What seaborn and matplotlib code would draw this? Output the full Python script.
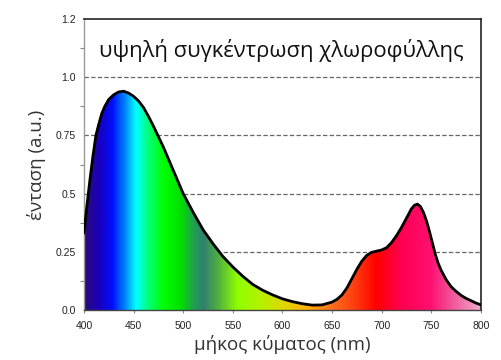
import numpy as np
import pandas as pd
import matplotlib
matplotlib.use("Agg")
import matplotlib.pyplot as plt
from matplotlib.colors import LinearSegmentedColormap
import seaborn as sns

# ---- data ----
wavelength = [400, 403, 406, 409, 412, 415, 418, 421, 425, 430, 435, 440, 445, 450, 455,
              460, 465, 470, 475, 480, 485, 490, 495, 500, 510, 520, 530, 540, 550,
              560, 570, 580, 590, 600, 610, 620, 630, 640, 650, 655, 660, 665, 670,
              675, 680, 685, 690, 695, 700, 705, 710, 715, 720, 725, 730, 733, 736,
              739, 742, 745, 748, 751, 754, 757, 760, 765, 770, 775, 780, 785, 790,
              795, 800]
intensity = [0.33, 0.45, 0.56, 0.66, 0.75, 0.80, 0.845, 0.875, 0.905, 0.925, 0.937, 0.94,
             0.932, 0.918, 0.898, 0.87, 0.832, 0.79, 0.745, 0.70, 0.65, 0.60, 0.55, 0.50,
             0.42, 0.345, 0.285, 0.23, 0.185, 0.145, 0.11, 0.085, 0.065, 0.048, 0.036,
             0.027, 0.021, 0.022, 0.034, 0.046, 0.065, 0.095, 0.135, 0.175, 0.21, 0.235,
             0.248, 0.253, 0.258, 0.268, 0.29, 0.32, 0.355, 0.395, 0.435, 0.45, 0.455,
             0.445, 0.42, 0.385, 0.34, 0.29, 0.24, 0.20, 0.17, 0.13, 0.10, 0.08, 0.063,
             0.05, 0.04, 0.03, 0.022]

x_ticks = [400, 450, 500, 550, 600, 650, 700, 750, 800]
y_ticks = [0.0, 0.25, 0.5, 0.75, 1.0, 1.25]
y_tick_labels = ["0.0", "0.25", "0.5", "0.75", "1.0", "1.2"]
grid_levels = [0.25, 0.5, 0.75, 1.0]

title_text = "υψηλή συγκέντρωση χλωροφύλλης"
x_label = "μήκος κύματος (nm)"
y_label = "ένταση (a.u.)"

# spectral colour stops (nm, colour)
spec_nm = [400, 415, 428, 440, 452, 465, 480, 497, 510, 520, 535, 555, 580,
           600, 625, 650, 672, 695, 720, 750, 775, 800]
spec_col = ["#2a0a78", "#1a00c0", "#0010ff", "#0080ff", "#00ffff", "#00ff70", "#00ff00",
            "#00e000", "#20a050", "#308070", "#50b040", "#90ff00", "#b8f000",
            "#e0d800", "#ffb000", "#ff7020", "#ff4010", "#ff0000", "#ff0050",
            "#ff1070", "#f060a0", "#f0a8c8"]

df = pd.DataFrame({"wavelength": wavelength, "intensity": intensity})

sns.set_theme(style="white")
plt.rcParams["font.family"] = ["Open Sans", "DejaVu Sans"]

fig = plt.figure(figsize=(5.02, 3.6), dpi=100)
ax = fig.add_axes([0.1673, 0.1389, 0.958 - 0.1673, 0.947 - 0.1389])
ax.set_xlim(400, 800)
ax.set_ylim(0, 1.25)

# dashed reference lines
for lv in grid_levels:
    ax.axhline(lv, color="#666666", lw=0.9, ls=(0, (3.5, 1.8)), zorder=1)

# gradient fill clipped to the area under the curve
poly = ax.fill_between(df["wavelength"], df["intensity"], 0, color="none", zorder=2)
lo, hi = spec_nm[0], spec_nm[-1]
cmap = LinearSegmentedColormap.from_list(
    "spec", [((n - lo) / (hi - lo), c) for n, c in zip(spec_nm, spec_col)])
grad = np.linspace(0, 1, 800).reshape(1, -1)
im = ax.imshow(grad, cmap=cmap, aspect="auto", extent=[400, 800, 0, 1.25],
               origin="lower", zorder=2, interpolation="bilinear")
path = poly.get_paths()[0]
im.set_clip_path(path, transform=ax.transData)

sns.lineplot(data=df, x="wavelength", y="intensity", ax=ax, color="black",
             lw=2.0, zorder=3)

ax.set_xticks(x_ticks)
ax.set_xticklabels([str(t) for t in x_ticks])
ax.set_yticks(y_ticks)
ax.set_yticklabels(y_tick_labels)
ax.set_yticks([0.125, 0.375, 0.625, 0.875, 1.125], minor=True)
for lab in ax.get_xticklabels() + ax.get_yticklabels():
    lab.set_fontfamily(["Liberation Sans", "DejaVu Sans"])
    lab.set_fontsize(7.5)
    lab.set_color("#222222")
ax.tick_params(axis="y", which="major", length=0, pad=6)
ax.tick_params(axis="y", which="minor", length=3, width=0.8, color="#888888", left=True)
ax.tick_params(axis="x", which="major", length=2, width=0.8, color="#888888", bottom=True, pad=6)

ax.set_xlabel(x_label, fontsize=13.5, color="#333333", labelpad=3)
ax.set_ylabel(y_label, fontsize=13.5, color="#333333", labelpad=7)

for side in ["top", "right"]:
    ax.spines[side].set_color("#222222")
    ax.spines[side].set_linewidth(1.2)
for side in ["left", "bottom"]:
    ax.spines[side].set_color("#999999")
    ax.spines[side].set_linewidth(1.0)
ax.spines["bottom"].set_color("#444444")

ax.text(0.497, 0.893, title_text, transform=ax.transAxes, ha="center", va="center",
        fontsize=15.8, color="#111111")

fig.savefig("out.png", dpi=100)
